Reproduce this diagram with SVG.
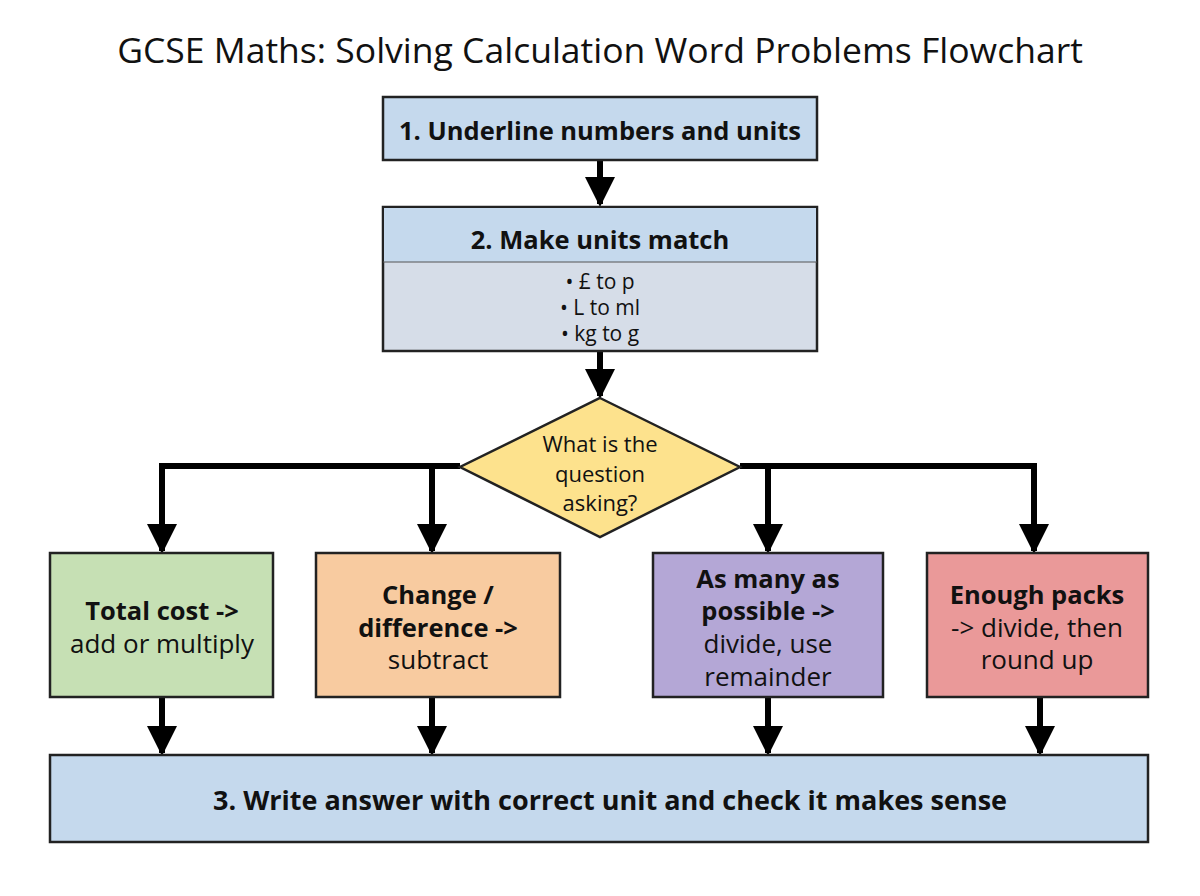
<svg xmlns="http://www.w3.org/2000/svg" width="1200" height="896" viewBox="0 0 1200 896">
<style>
text{font-family:"Open Sans","Noto Sans",sans-serif;fill:#111;text-anchor:middle}
.b{font-weight:bold}
.box{stroke:#222;stroke-width:2.5}
.ln{stroke:#000;stroke-width:6;fill:none}
</style>
<defs><marker id="ah" viewBox="0 0 10 10" refX="9" refY="5" markerWidth="5" markerHeight="5" markerUnits="strokeWidth" orient="auto"><path d="M0,0L10,5L0,10z" fill="#000"/></marker></defs>
<rect width="1200" height="896" fill="#fff"/>
<text x="600" y="63" font-size="35.5">GCSE Maths: Solving Calculation Word Problems Flowchart</text>
<g id="connectors">
<path class="ln" d="M600,160V204" marker-end="url(#ah)"/>
<path class="ln" d="M600,351V396" marker-end="url(#ah)"/>
<path class="ln" d="M460,466H162V551" marker-end="url(#ah)"/>
<path class="ln" d="M432,466V551" marker-end="url(#ah)"/>
<path class="ln" d="M740,466H1034V551" marker-end="url(#ah)"/>
<path class="ln" d="M768,466V551" marker-end="url(#ah)"/>
<path class="ln" d="M162,697V753" marker-end="url(#ah)"/>
<path class="ln" d="M432,697V753" marker-end="url(#ah)"/>
<path class="ln" d="M768,697V753" marker-end="url(#ah)"/>
<path class="ln" d="M1040,697V753" marker-end="url(#ah)"/>
</g>
<g id="n1"><rect class="box" x="383" y="97" width="434" height="63" fill="#c5d9ed"/><text class="b" x="600" y="140" font-size="25.5">1. Underline numbers and units</text></g>
<g id="n2"><rect class="box" x="383" y="207" width="434" height="144" fill="#d6dde8"/><rect x="384" y="208" width="432" height="54" fill="#c5d9ed"/><line x1="383" y1="262" x2="817" y2="262" stroke="#555" stroke-width="1"/>
<text class="b" x="600" y="249" font-size="25.5">2. Make units match</text>
<text x="600" y="289" font-size="21">• £ to p</text><text x="600" y="315" font-size="21">• L to ml</text><text x="600" y="341" font-size="21">• kg to g</text></g>
<g id="d"><path class="box" d="M600,398L740,467L600,537L460,467z" fill="#fde28d"/>
<text x="600" y="452" font-size="22">What is the</text><text x="600" y="482" font-size="22">question</text><text x="600" y="511" font-size="22">asking?</text></g>
<g id="g"><rect class="box" x="50" y="553" width="223" height="144" fill="#c6e0b4"/><text class="b" x="162" y="620" font-size="25.5">Total cost -&gt;</text><text x="162" y="653" font-size="26">add or multiply</text></g>
<g id="o"><rect class="box" x="316" y="553" width="244" height="144" fill="#f8cba0"/><text class="b" x="438" y="604" font-size="25.5">Change /</text><text class="b" x="438" y="637" font-size="25.5">difference -&gt;</text><text x="438" y="669" font-size="26">subtract</text></g>
<g id="p"><rect class="box" x="653" y="553" width="230" height="144" fill="#b4a7d6"/><text class="b" x="768" y="588" font-size="25.5">As many as</text><text class="b" x="768" y="620" font-size="25.5">possible -&gt;</text><text x="768" y="653" font-size="26">divide, use</text><text x="768" y="686" font-size="26">remainder</text></g>
<g id="r"><rect class="box" x="927" y="553" width="221" height="144" fill="#ea9999"/><text class="b" x="1037" y="604" font-size="25.5">Enough packs</text><text x="1037" y="637" font-size="26">-&gt; divide, then</text><text x="1037" y="669" font-size="26">round up</text></g>
<g id="n3"><rect class="box" x="50" y="755" width="1098" height="87" fill="#c5d9ed"/><text class="b" x="610" y="810" font-size="27">3. Write answer with correct unit and check it makes sense</text></g>
</svg>
